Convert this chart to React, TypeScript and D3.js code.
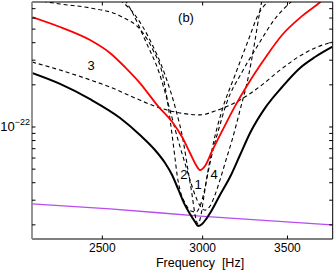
import React from 'react';
import * as d3 from 'd3';

const E = 1e-23;

const blackFreq = [2200, 2315, 2445, 2582, 2677, 2751, 2802, 2838, 2869, 2900, 2932, 2959, 2975, 2997, 3019, 3041, 3096, 3153, 3211, 3270, 3361, 3466, 3581, 3680, 3796];
const blackVal = [24.3, 20.3, 15.8, 11.6, 8.77, 6.85, 5.53, 4.54, 3.61, 2.86, 2.39, 2.1, 1.96, 2.03, 2.2, 2.43, 3.27, 4.39, 6.31, 9.06, 13.7, 19.3, 26.4, 31.6, 37.3];

const redFreq = [2200, 2315, 2445, 2535, 2605, 2677, 2766, 2838, 2890, 2932, 2964, 2986, 3013, 3052, 3108, 3182, 3258, 3361, 3466, 3595, 3715, 3760];
const redVal = [61.0, 51.8, 41.8, 33.8, 26.8, 20.6, 14.1, 10.9, 8.48, 6.52, 5.35, 4.93, 5.27, 6.74, 9.36, 14.1, 20.3, 31.1, 45.4, 62.1, 78.1, 86.2];

const mode1Freq = [2582, 2653, 2726, 2802, 2858, 2895, 2921, 2943, 2959, 2975, 2991, 3008, 3030, 3063, 3108, 3182, 3260, 3318, 3391];
const mode1Val = [80.7, 63.1, 41.8, 23.5, 13.2, 8.07, 4.93, 3.27, 2.35, 2.03, 2.35, 3.27, 4.93, 8.07, 13.2, 23.5, 41.8, 63.1, 80.7];

const mode2Freq = [2216, 2315, 2445, 2582, 2692, 2741, 2792, 2817, 2838, 2853, 2864, 2879, 2906, 2937, 2964, 2986, 3008, 3030, 3057, 3091, 3130, 3223, 3318, 3416, 3536];
const mode2Val = [80.7, 75.6, 70.8, 62.1, 46.9, 35.5, 22.8, 14.4, 8.77, 6.0, 4.54, 3.55, 2.86, 2.51, 2.47, 2.73, 3.43, 4.77, 6.85, 9.84, 14.4, 24.7, 38.5, 58.1, 80.7];

const mode3Freq = [2200, 2315, 2445, 2535, 2653, 2761, 2879, 2986, 3068, 3211, 3342, 3453, 3581, 3680, 3796];
const mode3Val = [29.1, 25.5, 21.7, 19.3, 16.1, 13.9, 12.6, 12.2, 13.0, 15.6, 20.0, 25.5, 32.2, 36.7, 40.5];

const mode4Freq = [2605, 2639, 2702, 2776, 2827, 2869, 2900, 2932, 2959, 2986, 3013, 3041, 3068, 3096, 3130, 3165, 3211, 3262, 3300, 3328, 3342];
const mode4Val = [80.7, 66.3, 41.8, 23.5, 13.2, 8.07, 5.81, 4.18, 3.27, 2.73, 2.55, 2.73, 3.27, 4.18, 5.81, 8.07, 13.2, 23.5, 41.8, 66.3, 80.7];

const refFreq = [2200, 2535, 2986, 3796];
const refVal = [2.82, 2.6, 2.31, 2.0];

const xTicks = [2500, 3000, 3500];
const yMajor = [1e-22];
const yMinor = [2e-23, 3e-23, 4e-23, 5e-23, 6e-23, 7e-23, 8e-23, 9e-23, 2e-22, 3e-22, 4e-22, 5e-22, 6e-22, 7e-22];

const modeLabels = [
  { t: '3', f: 2450, v: 25.5 },
  { t: '2', f: 2900, v: 4.25 },
  { t: '1', f: 2975, v: 3.6 },
  { t: '4', f: 3063, v: 4.25 },
];

const W = 335, H = 270;
const L = 32, R = 332.7, T = 2, B = 239;
const FONT = 'Liberation Sans, Arial, Helvetica, sans-serif';

export default function App() {
  const x = d3.scaleLog().domain([2200, 3800]).range([L, R]);
  const y = d3.scaleLog().domain([1.585e-23, 7.81e-22]).range([B, T]);
  const mk = (fs: number[], vs: number[]) => {
    const pts = fs.map((f, i) => [f, vs[i] * E] as [number, number]);
    return d3.line<[number, number]>().x(d => x(d[0])).y(d => y(d[1])).curve(d3.curveMonotoneX)(pts) || '';
  };
  const tk = 3.5;
  return (
    <svg width={W} height={H} style={{ position: 'absolute', left: 0, top: 0, background: '#fff' }} fontFamily={FONT}>
      <defs>
        <clipPath id="plot"><rect x={L} y={T} width={R - L} height={B - T} /></clipPath>
      </defs>
      <rect x={0} y={0} width={W} height={H} fill="#fff" />
      <g clipPath="url(#plot)" fill="none">
        <path d={mk(refFreq, refVal)} stroke="#b84cf0" strokeWidth={1.3} />
        <path d={mk(mode3Freq, mode3Val)} stroke="#000" strokeWidth={1.1} strokeDasharray="4,3" />
        <path d={mk(mode1Freq, mode1Val)} stroke="#000" strokeWidth={1.1} strokeDasharray="4,3" />
        <path d={mk(mode2Freq, mode2Val)} stroke="#000" strokeWidth={1.1} strokeDasharray="4,3" />
        <path d={mk(mode4Freq, mode4Val)} stroke="#000" strokeWidth={1.1} strokeDasharray="4,3" />
        <path d={mk(redFreq, redVal)} stroke="#ff0000" strokeWidth={1.8} />
        <path d={mk(blackFreq, blackVal)} stroke="#000" strokeWidth={2} />
      </g>
      <line x1={L} y1={T} x2={R} y2={T} stroke="#000" strokeWidth={1} />
      <line x1={R} y1={T} x2={R} y2={B} stroke="#000" strokeWidth={1} />
      <line x1={L} y1={B} x2={R} y2={B} stroke="#000" strokeWidth={1.2} />
      <line x1={L} y1={T} x2={L} y2={B} stroke="#8a8a8a" strokeWidth={1.8} />
      {xTicks.map(t => (
        <g key={t}>
          <line x1={x(t)} x2={x(t)} y1={B} y2={B - tk} stroke="#000" />
          <line x1={x(t)} x2={x(t)} y1={T} y2={T + tk} stroke="#000" />
          <text x={x(t)} y={252} textAnchor="middle" fontSize={12}>{t}</text>
        </g>
      ))}
      {[...yMajor, ...yMinor].map(t => (
        <g key={t}>
          <line x1={L} x2={L + tk} y1={y(t)} y2={y(t)} stroke="#000" />
          <line x1={R} x2={R - tk} y1={y(t)} y2={y(t)} stroke="#000" />
        </g>
      ))}
      {yMajor.map(t => (
        <text key={t} x={30} y={y(t) + 4} textAnchor="end" fontSize={13}>
          10<tspan dy={-6} fontSize={9}>−22</tspan>
        </text>
      ))}
      {modeLabels.map(m => (
        <text key={m.t} x={x(m.f)} y={y(m.v * E)} textAnchor="middle" fontSize={13}>{m.t}</text>
      ))}
      <text x={186} y={22} textAnchor="middle" fontSize={13}>(b)</text>
      <text x={200} y={266.5} textAnchor="middle" fontSize={12.5} style={{ whiteSpace: 'pre' }}>Frequency  [Hz]</text>
    </svg>
  );
}
